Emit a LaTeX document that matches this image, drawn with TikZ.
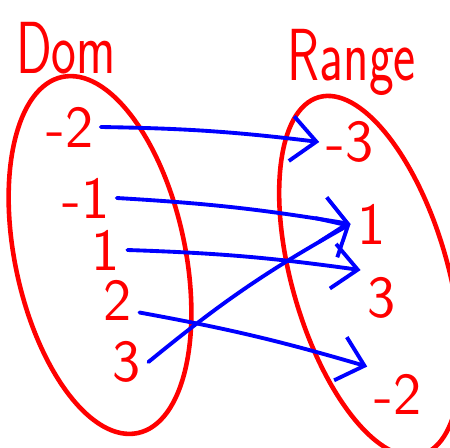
\documentclass[tikz,border=0pt]{standalone}
\usepackage{xcolor}
\definecolor{penred}{HTML}{FF0000}
\definecolor{penblue}{HTML}{0000FF}
\usepackage{tikz}
\usetikzlibrary{arrows.meta, positioning}

\begin{document}
\begin{tikzpicture}[x=0.02cm, y=-0.02cm,
    font=\sffamily\fontsize{34}{36}\selectfont,
    setline/.style={draw=penred, line width=2.6pt},
    elt/.style={text=penred, inner sep=4pt},
    setname/.style={text=penred, font=\sffamily\fontsize{30}{30}\selectfont, yscale=1.4},
    maplink/.style={draw=penblue, line width=2.2pt, line cap=round,
      -{Straight Barb[length=5mm, width=9mm, line width=2.2pt]}}]
  \useasboundingbox (0,0) rectangle (450,447);
  % the two sets
  \draw[setline] (100,255) ellipse[x radius=85, y radius=182, rotate=12];
  \draw[setline] (370,276) ellipse[x radius=78, y radius=186, rotate=16];
  \node[setname] (dom) at (66,48) {Dom};
  \node[setname] (rng) at (352,62) {Range};
  % domain
  \node[elt] (dm2) at (70,127) {-2};
  \node[elt] (dm1) at (86,198) {-1};
  \node[elt] (d1) at (106,250) {1};
  \node[elt] (d2) at (118,300) {2};
  \node[elt] (d3) at (127,362) {3};
  % range
  \node[elt] (rm3) at (350,142) {-3};
  \node[elt] (r1) at (372,224) {1};
  \node[elt] (r3) at (382,298) {3};
  \node[elt] (rm2) at (398,394) {-2};
  % the mapping
  \draw[maplink] (dm2.east) to[bend left=3] (rm3.west);
  \draw[maplink] (dm1.east) to[bend left=3] (r1.west);
  \draw[maplink] (d1.east) to[bend left=3] (r3.north west);
  \draw[maplink] ([yshift=-0.25cm]d2.east) to[bend left=3] (rm2.north west);
  \draw[maplink] (d3.east) to[bend left=5] (r1.west);
\end{tikzpicture}
\end{document}
